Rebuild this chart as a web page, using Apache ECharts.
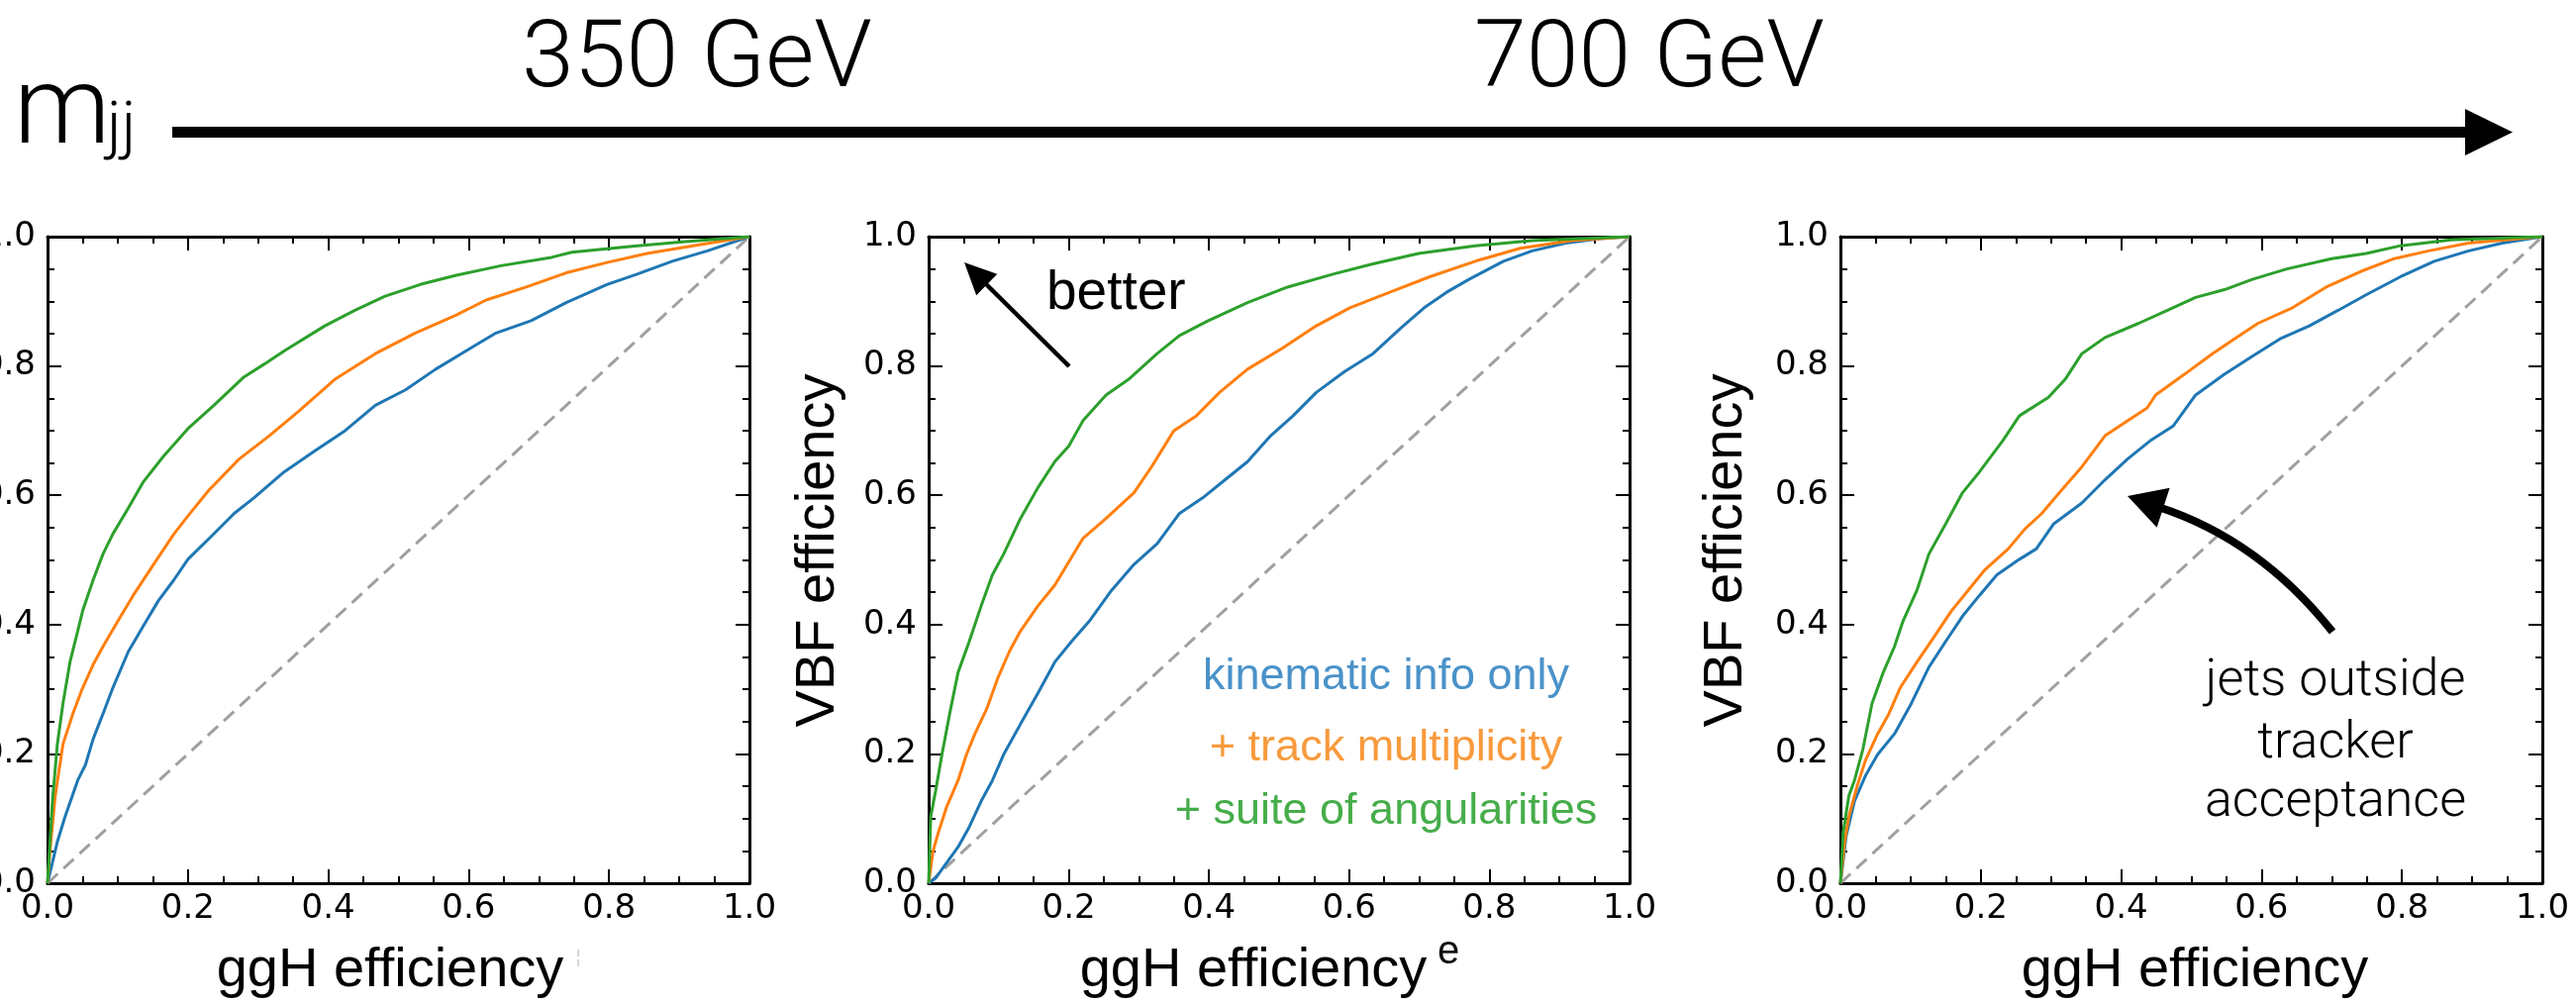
<!DOCTYPE html>
<html>
<head>
<meta charset="utf-8">
<script src="https://cdn.jsdelivr.net/npm/echarts@6/dist/echarts.min.js"></script>
<style>
html,body{margin:0;padding:0;background:#fff;}
#chart{width:2602px;height:1015px;}
</style>
</head>
<body>
<div id="chart"></div>
<script>
// ---------------- DATA ----------------
const tickLabels = ['0.0','0.2','0.4','0.6','0.8','1.0'];
const seriesNames = ['kinematic info only', '+ track multiplicity', '+ suite of angularities'];
const diagonal = [[0,0],[1,1]];

// Panel 1 (350 GeV)
const p1Kin = [[0,0],[0.007,0.032],[0.014,0.064],[0.025,0.103],[0.043,0.159],[0.054,0.183],[0.065,0.223],[0.079,0.262],[0.093,0.302],[0.115,0.358],[0.136,0.397],[0.158,0.437],[0.18,0.469],[0.2,0.501],[0.23,0.533],[0.266,0.572],[0.294,0.596],[0.337,0.636],[0.38,0.668],[0.424,0.7],[0.467,0.739],[0.51,0.763],[0.553,0.795],[0.596,0.823],[0.639,0.851],[0.689,0.87],[0.739,0.898],[0.797,0.926],[0.84,0.942],[0.89,0.962],[0.94,0.978],[1,1]];
const p1Track = [[0,0],[0.004,0.056],[0.011,0.135],[0.022,0.215],[0.036,0.262],[0.05,0.302],[0.065,0.338],[0.079,0.366],[0.1,0.405],[0.122,0.445],[0.151,0.493],[0.18,0.54],[0.2,0.568],[0.23,0.608],[0.273,0.656],[0.316,0.692],[0.359,0.731],[0.409,0.779],[0.467,0.819],[0.524,0.851],[0.581,0.878],[0.625,0.902],[0.682,0.922],[0.739,0.944],[0.797,0.96],[0.854,0.974],[0.926,0.987],[1,1]];
const p1Ang = [[0,0],[0.007,0.127],[0.014,0.215],[0.022,0.278],[0.032,0.342],[0.043,0.39],[0.05,0.421],[0.065,0.469],[0.079,0.509],[0.093,0.54],[0.115,0.58],[0.136,0.62],[0.165,0.66],[0.2,0.703],[0.237,0.739],[0.28,0.783],[0.309,0.803],[0.337,0.823],[0.395,0.862],[0.438,0.886],[0.481,0.908],[0.531,0.926],[0.581,0.94],[0.646,0.955],[0.718,0.968],[0.747,0.976],[0.833,0.985],[0.905,0.992],[1,1]];

// Panel 2
const p2Kin = [[0,0],[0.01,0.008],[0.026,0.032],[0.042,0.056],[0.058,0.087],[0.075,0.127],[0.091,0.159],[0.107,0.199],[0.131,0.246],[0.156,0.294],[0.18,0.342],[0.204,0.374],[0.229,0.405],[0.261,0.453],[0.293,0.493],[0.326,0.525],[0.358,0.572],[0.391,0.596],[0.423,0.624],[0.455,0.652],[0.488,0.692],[0.52,0.723],[0.553,0.759],[0.593,0.791],[0.634,0.819],[0.674,0.859],[0.707,0.89],[0.739,0.914],[0.771,0.934],[0.82,0.962],[0.861,0.978],[0.909,0.99],[0.958,0.997],[1,1]];
const p2Track = [[0,0],[0.006,0.048],[0.014,0.079],[0.026,0.119],[0.042,0.159],[0.054,0.199],[0.066,0.231],[0.083,0.27],[0.099,0.318],[0.115,0.358],[0.131,0.39],[0.156,0.429],[0.18,0.461],[0.2,0.497],[0.22,0.533],[0.253,0.564],[0.293,0.604],[0.318,0.644],[0.35,0.7],[0.382,0.723],[0.415,0.759],[0.455,0.795],[0.504,0.827],[0.553,0.862],[0.601,0.89],[0.658,0.914],[0.715,0.938],[0.78,0.962],[0.844,0.982],[0.917,0.994],[1,1]];
const p2Ang = [[0,0],[0.003,0.103],[0.01,0.143],[0.019,0.199],[0.03,0.262],[0.042,0.326],[0.058,0.374],[0.075,0.429],[0.091,0.477],[0.107,0.509],[0.131,0.564],[0.156,0.612],[0.18,0.652],[0.2,0.676],[0.22,0.715],[0.253,0.755],[0.285,0.779],[0.326,0.819],[0.358,0.847],[0.399,0.87],[0.455,0.898],[0.512,0.922],[0.577,0.942],[0.634,0.958],[0.699,0.974],[0.78,0.986],[0.861,0.994],[1,1]];

// Panel 3 (700 GeV)
const p3Kin = [[0,0],[0.008,0.072],[0.02,0.127],[0.036,0.167],[0.053,0.199],[0.077,0.231],[0.101,0.278],[0.126,0.334],[0.15,0.374],[0.174,0.413],[0.198,0.445],[0.223,0.477],[0.255,0.501],[0.279,0.517],[0.304,0.556],[0.344,0.588],[0.377,0.624],[0.409,0.656],[0.441,0.684],[0.474,0.707],[0.506,0.755],[0.547,0.787],[0.587,0.815],[0.628,0.843],[0.668,0.862],[0.709,0.886],[0.749,0.91],[0.798,0.938],[0.846,0.962],[0.895,0.978],[0.943,0.99],[1,1]];
const p3Track = [[0,0],[0.006,0.064],[0.012,0.103],[0.024,0.151],[0.036,0.191],[0.053,0.231],[0.069,0.262],[0.085,0.302],[0.109,0.342],[0.134,0.382],[0.158,0.421],[0.182,0.453],[0.206,0.485],[0.239,0.517],[0.263,0.548],[0.287,0.572],[0.312,0.604],[0.344,0.644],[0.377,0.692],[0.409,0.715],[0.437,0.735],[0.449,0.755],[0.49,0.787],[0.53,0.819],[0.563,0.843],[0.595,0.866],[0.644,0.89],[0.692,0.922],[0.741,0.946],[0.789,0.966],[0.838,0.978],[0.895,0.99],[1,1]];
const p3Ang = [[0,0],[0.004,0.079],[0.012,0.135],[0.02,0.159],[0.032,0.207],[0.045,0.278],[0.061,0.326],[0.077,0.366],[0.089,0.405],[0.109,0.453],[0.126,0.509],[0.15,0.556],[0.174,0.604],[0.198,0.636],[0.231,0.684],[0.255,0.723],[0.296,0.751],[0.32,0.779],[0.344,0.819],[0.377,0.844],[0.425,0.866],[0.466,0.886],[0.506,0.906],[0.547,0.918],[0.587,0.934],[0.636,0.95],[0.7,0.966],[0.749,0.974],[0.798,0.986],[0.87,0.995],[1,1]];

const panels = [[p1Kin, p1Track, p1Ang], [p2Kin, p2Track, p2Ang], [p3Kin, p3Track, p3Ang]];
const lineColors = ['#1f77b4', '#ff7f0e', '#2ca02c'];
const labelColors = ['#4a92c9', '#f89a3c', '#46ad4a'];

// ---------------- LAYOUT ----------------
const grids = [
  {left: 48, top: 239, width: 709, height: 653},
  {left: 938, top: 239, width: 708, height: 653},
  {left: 1859, top: 239, width: 709, height: 653}
];

function axis(gi, pos, showLabel, isX) {
  return {
    type: 'value', gridIndex: gi, position: pos, min: 0, max: 1, interval: 0.2,
    axisLine: {show: true, onZero: false, lineStyle: {color: '#000', width: 3}},
    axisTick: {show: true, inside: true, length: 14, lineStyle: {color: '#000', width: 2}},
    minorTick: {show: true, splitNumber: 4, length: 7, lineStyle: {color: '#000', width: 2}},
    splitLine: {show: false},
    minorSplitLine: {show: false},
    axisLabel: {
      show: showLabel, fontFamily: 'DejaVu Sans', fontSize: 34, color: '#000',
      margin: isX ? 9 : 12, hideOverlap: false,
      formatter: function (v) { return tickLabels[Math.round(v / 0.2)]; }
    }
  };
}

const xAxes = [], yAxes = [], series = [];
grids.forEach((g, gi) => {
  xAxes.push(axis(gi, 'bottom', true, true));
  xAxes.push(axis(gi, 'top', false, true));
  yAxes.push(axis(gi, 'left', true, false));
  yAxes.push(axis(gi, 'right', false, false));
  series.push({
    type: 'line', xAxisIndex: gi * 2, yAxisIndex: gi * 2, data: diagonal,
    showSymbol: false, silent: true,
    lineStyle: {color: '#a0a0a0', width: 3, type: [14, 8]}, z: 1
  });
  panels[gi].forEach((d, si) => {
    series.push({
      type: 'line', name: seriesNames[si], xAxisIndex: gi * 2, yAxisIndex: gi * 2, data: d,
      showSymbol: false, silent: true,
      lineStyle: {color: lineColors[si], width: 3}, z: 2 + si
    });
  });
});

function txt(text, x, y, size, opts) {
  opts = opts || {};
  return {
    type: 'text', x: x, y: y, rotation: opts.rotation || 0, z: 100,
    style: {
      text: text,
      fill: opts.color || '#000',
      font: (opts.weight || 'normal') + ' ' + size + 'px ' + (opts.family || '"Liberation Sans", Arial, sans-serif'),
      align: opts.align || 'left',
      verticalAlign: 'middle'
    }
  };
}

function arrowHead(tip, dir, len, halfW) {
  const n = Math.hypot(dir[0], dir[1]);
  const ux = dir[0] / n, uy = dir[1] / n;
  const bx = tip[0] - ux * len, by = tip[1] - uy * len;
  const px = -uy, py = ux;
  return {
    type: 'polygon', z: 100,
    shape: {points: [tip, [bx + px * halfW, by + py * halfW], [bx - px * halfW, by - py * halfW]]},
    style: {fill: '#000'}
  };
}

const light = '"Roboto", "Lato", "Liberation Sans", sans-serif';
const graphics = [
  // header
  txt('m', 14, 116, 110, {family: light, weight: 300}),
  txt('jj', 108, 132, 64, {family: light, weight: 300}),
  txt('350 GeV', 527, 63, 95, {family: light, weight: 300}),
  txt('700 GeV', 1489, 63, 95, {family: light, weight: 300}),
  {type: 'rect', z: 100, shape: {x: 174, y: 128, width: 2320, height: 11}, style: {fill: '#000'}},
  {type: 'polygon', z: 100, shape: {points: [[2490, 110], [2538, 133.5], [2490, 157]]}, style: {fill: '#000'}},
  // axis titles
  txt('ggH efficiency', 394, 981, 56, {align: 'center'}),
  txt('ggH efficiency', 1266, 981, 56, {align: 'center'}),
  txt('ggH efficiency', 2217, 981, 56, {align: 'center'}),
  txt('e', 1452, 962, 40, {color: '#111'}),
  txt('¦', 584, 967, 18, {color: '#c8c8c8', align: 'center'}),
  txt('VBF efficiency', 827, 556, 56, {align: 'center', rotation: Math.PI / 2}),
  txt('VBF efficiency', 1744, 556, 56, {align: 'center', rotation: Math.PI / 2}),
  // panel 2 annotations
  {type: 'line', z: 100, shape: {x1: 1080, y1: 370, x2: 993, y2: 284}, style: {stroke: '#000', lineWidth: 4.5}},
  arrowHead([974, 265], [-105, -104], 32, 15),
  txt('better', 1057, 297, 55),
  txt(seriesNames[0], 1400, 684, 45, {align: 'center', color: labelColors[0]}),
  txt(seriesNames[1], 1400, 756, 45, {align: 'center', color: labelColors[1]}),
  txt(seriesNames[2], 1400, 820, 45, {align: 'center', color: labelColors[2]}),
  // panel 3 annotations
  {type: 'bezierCurve', z: 100, shape: {x1: 2356, y1: 638, cpx1: 2282, cpy1: 545, x2: 2180, y2: 512}, style: {stroke: '#000', lineWidth: 8, fill: null}},
  arrowHead([2149, 501], [-0.95, -0.31], 38, 21),
  txt('jets outside', 2359, 689, 52, {align: 'center', family: light, weight: 300}),
  txt('tracker', 2359, 752, 52, {align: 'center', family: light, weight: 300}),
  txt('acceptance', 2359, 811, 52, {align: 'center', family: light, weight: 300})
];

const chart = echarts.init(document.getElementById('chart'), null, {renderer: 'canvas'});
chart.setOption({
  animation: false,
  backgroundColor: '#fff',
  grid: grids.map(g => Object.assign({containLabel: false, outerBoundsMode: 'none'}, g)),
  xAxis: xAxes,
  yAxis: yAxes,
  series: series,
  graphic: graphics
});
</script>
</body>
</html>
